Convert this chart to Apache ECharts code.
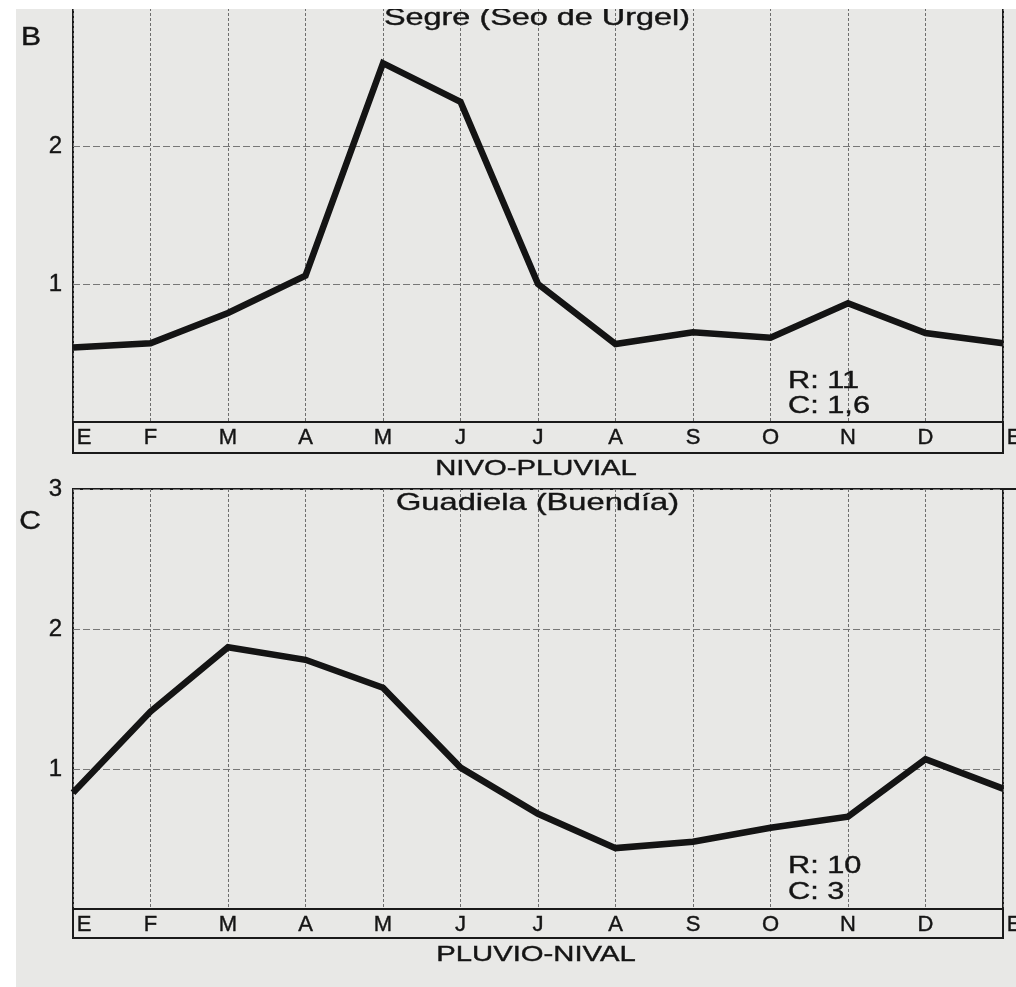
<!DOCTYPE html>
<html>
<head>
<meta charset="utf-8">
<script src="https://cdn.jsdelivr.net/npm/echarts@6/dist/echarts.min.js"></script>
<style>
html,body{margin:0;padding:0;background:#e8e8e6;}
#chart{width:1016px;height:987px;}
</style>
</head>
<body>
<div id="chart"></div>
<script>
// ---- data ----
const months = ['E','F','M','A','M','J','J','A','S','O','N','D','E'];
const segreValues    = [0.54, 0.57, 0.79, 1.06, 2.60, 2.32, 1.00, 0.565, 0.65, 0.61, 0.86, 0.645, 0.57];
const guadielaValues = [0.83, 1.41, 1.87, 1.78, 1.58, 1.01, 0.68, 0.435, 0.48, 0.58, 0.66, 1.07, 0.86];
const yMin = 0, yMax = 3, yStep = 1;
const panelTitles = ['Segre (Seo de Urgel)', 'Guadiela (Buendía)'];
const regimeLabels = ['NIVO-PLUVIAL', 'PLUVIO-NIVAL'];
const panelLetters = ['B', 'C'];
const statsR = ['R: 11', 'R: 10'];
const statsC = ['C: 1,6', 'C: 3'];

const FONT = 'Liberation Sans, Arial, Helvetica, sans-serif';
const INK = '#141414';

const chart = echarts.init(document.getElementById('chart'));

function xAxisFor(i) {
  const last = months.length - 1;
  return {
    type: 'value', gridIndex: i, min: 0, max: last, interval: 1,
    axisLine: { show: false }, axisTick: { show: false },
    splitLine: { show: true, lineStyle: { color: '#6e6e6e', type: [3, 2], width: 1 } },
    axisLabel: {
      margin: 16, verticalAlign: 'middle', fontSize: 22, color: INK, fontFamily: FONT,
      textBorderColor: INK, textBorderWidth: 0.4,
      formatter: v => (v === 0 || v === last) ? '{f|' + months[v] + '}' : (months[v] || ''),
      rich: { f: { padding: [0, 0, 0, 22], fontSize: 22, color: INK, fontFamily: FONT,
                   textBorderColor: INK, textBorderWidth: 0.4 } }
    }
  };
}
function yAxisFor(i) {
  return {
    type: 'value', gridIndex: i, min: yMin, max: yMax, interval: yStep,
    axisLine: { show: false }, axisTick: { show: false },
    splitLine: { show: true, lineStyle: { color: '#777', type: [7, 3], width: 1 } },
    axisLabel: {
      margin: 11, fontSize: 24, color: INK, fontFamily: FONT, padding: [0, 0, 10, 0],
      textBorderColor: INK, textBorderWidth: 0.4,
      // the top panel's "3" lies outside the scanned page
      formatter: v => (v === yMin || (i === 0 && v === yMax)) ? '' : String(v)
    }
  };
}
function seriesFor(i, vals) {
  return {
    type: 'line', xAxisIndex: i, yAxisIndex: i, symbol: 'none',
    lineStyle: { color: INK, width: 6.5, cap: 'butt', join: 'miter' },
    data: vals.map((v, k) => [k, v]), z: 5
  };
}
function stretchedText(text, x, y, size, sx, align) {
  return {
    type: 'text', x: x, y: y, scaleX: sx, z: 50,
    style: { text: text, fontSize: size, fontFamily: FONT, fill: INK,
             stroke: INK, lineWidth: 0.4,
             align: align || 'center', verticalAlign: 'middle' }
  };
}

const option = {
  backgroundColor: '#e8e8e6',
  animation: false,
  grid: [
    { left: 73, top: 8, width: 930, height: 414, show: true, borderColor: '#1a1a1a', borderWidth: 2,
      containLabel: false, outerBoundsMode: 'none' },
    { left: 73, top: 489, width: 930, height: 420, show: true, borderColor: '#1a1a1a', borderWidth: 2,
      containLabel: false, outerBoundsMode: 'none' }
  ],
  xAxis: [xAxisFor(0), xAxisFor(1)],
  yAxis: [yAxisFor(0), yAxisFor(1)],
  series: [seriesFor(0, segreValues), seriesFor(1, guadielaValues)],
  graphic: [
    // label bands under each plot
    { type: 'rect', z: 40, shape: { x: 73, y: 422, width: 930, height: 31 },
      style: { fill: 'none', stroke: '#1a1a1a', lineWidth: 2 } },
    { type: 'rect', z: 40, shape: { x: 73, y: 909, width: 930, height: 29 },
      style: { fill: 'none', stroke: '#1a1a1a', lineWidth: 2 } },
    { type: 'line', z: 40, shape: { x1: 1003, y1: 489, x2: 1016, y2: 489 },
      style: { stroke: '#1a1a1a', lineWidth: 2 } },
    // titles and annotations
    stretchedText(panelTitles[0], 537, 18.5, 24, 1.35),
    stretchedText(panelTitles[1], 537.5, 503, 24, 1.36),
    stretchedText(regimeLabels[0], 536, 469, 22, 1.33),
    stretchedText(regimeLabels[1], 536, 955, 22, 1.33),
    stretchedText(panelLetters[0], 31, 38, 25, 1.2),
    stretchedText(panelLetters[1], 30, 522, 25, 1.2),
    stretchedText(statsR[0], 788, 381, 24, 1.28, 'left'),
    stretchedText(statsC[0], 788, 406, 24, 1.28, 'left'),
    stretchedText(statsR[1], 788, 866, 24, 1.28, 'left'),
    stretchedText(statsC[1], 788, 892, 24, 1.28, 'left'),
    // white scan margins
    { type: 'rect', z: 100, shape: { x: 0, y: 0, width: 1016, height: 9 }, style: { fill: '#ffffff' } },
    { type: 'rect', z: 100, shape: { x: 0, y: 0, width: 16, height: 987 }, style: { fill: '#ffffff' } }
  ]
};
chart.setOption(option);
</script>
</body>
</html>
